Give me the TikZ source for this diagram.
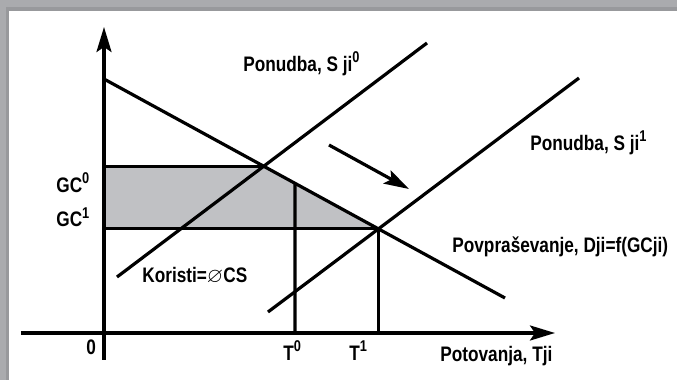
\documentclass[tikz,border=0pt]{standalone}
\usepackage{fontspec}
\usepackage{amssymb}
\newfontfamily\lblfont{Liberation Sans}[FakeStretch=0.82]
\usetikzlibrary{arrows.meta}
\definecolor{framegray}{RGB}{170,171,174}
\definecolor{framedark}{RGB}{152,153,156}
\definecolor{areagray}{RGB}{192,193,196}
\newcommand{\hi}[1]{\raisebox{4.2pt}{\fontsize{7.8}{8}\selectfont #1}}
\begin{document}
\begin{tikzpicture}[x=0.5pt, y=-0.5pt,
  curve/.style={line width=1.6pt},
  tip/.style={-{Stealth[length=12.5pt,width=7.5pt,inset=2.5pt]}},
  lbl/.style={font=\lblfont\bfseries\fontsize{10.5}{12}\selectfont, anchor=base west, inner sep=0pt}]
  \useasboundingbox (0,0) rectangle (677,380);
  % Frame (top and left edge)
  \fill[framegray] (0,0) rectangle (677,11);
  \fill[framegray] (0,0) rectangle (9,380);
  \fill[framedark] (6,7) rectangle (677,11);
  \fill[framedark] (6,7) rectangle (9,380);
  % Key points
  \coordinate (O) at (104,333);
  \coordinate (ytop) at (104,27);
  \coordinate (ybot) at (104,360);
  \coordinate (xleft) at (21,333);
  \coordinate (xright) at (555,333);
  \coordinate (D1) at (104,79);
  \coordinate (D2) at (505,298);
  \coordinate (S0a) at (117,277);
  \coordinate (S0b) at (427,43);
  \coordinate (S1a) at (268,312);
  \coordinate (S1b) at (579,78);
  \coordinate (T0) at (295,333);
  \coordinate (T0up) at (295,100);
  \coordinate (E0) at (intersection of D1--D2 and S0a--S0b);
  \coordinate (E1) at (intersection of D1--D2 and S1a--S1b);
  \coordinate (T0top) at (intersection of D1--D2 and T0--T0up);
  \coordinate (shiftA) at (329,145);
  \coordinate (shiftB) at (409,189);
  % Consumer benefit area
  \fill[areagray] (O |- E0) -- (E0) -- (E1) -- (O |- E1) -- cycle;
  % Axes
  \draw[curve, tip] (ybot) -- (ytop);
  \draw[curve, tip] (xleft) -- (xright);
  % Demand and supply
  \draw[curve] (D1) -- (D2);
  \draw[curve] (S0a) -- (S0b);
  \draw[curve] (S1a) -- (S1b);
  % Cost levels
  \draw[curve] (O |- E0) -- (E0);
  \draw[curve] (O |- E1) -- (E1);
  % Trip levels
  \draw[curve] (T0) -- (T0top);
  \draw[curve] (E1) -- (E1 |- O);
  % Shift of supply
  \draw[curve, tip] (shiftA) -- (shiftB);
  % Labels
  \node[lbl] (ponS0) at (243,71) {Ponudba, S ji\hi{0}};
  \node[lbl] (ponS1) at (530,150) {Ponudba, S ji\hi{1}};
  \node[lbl] (gc0) at (56,192) {GC\hi{0}};
  \node[lbl] (gc1) at (56,227) {GC\hi{1}};
  \node[lbl] (koristi) at (142,283) {Koristi=\ensuremath{\varnothing}CS};
  \node[lbl] (zero) at (86,355) {0};
  \node[lbl] (t0) at (283,360) {T\hi{0}};
  \node[lbl] (t1) at (349,360) {T\hi{1}};
  \node[lbl] (povp) at (452,253) {Povpraševanje, Dji=f(GCji)};
  \node[lbl] (potov) at (440,362) {Potovanja, Tji};
\end{tikzpicture}
\end{document}
